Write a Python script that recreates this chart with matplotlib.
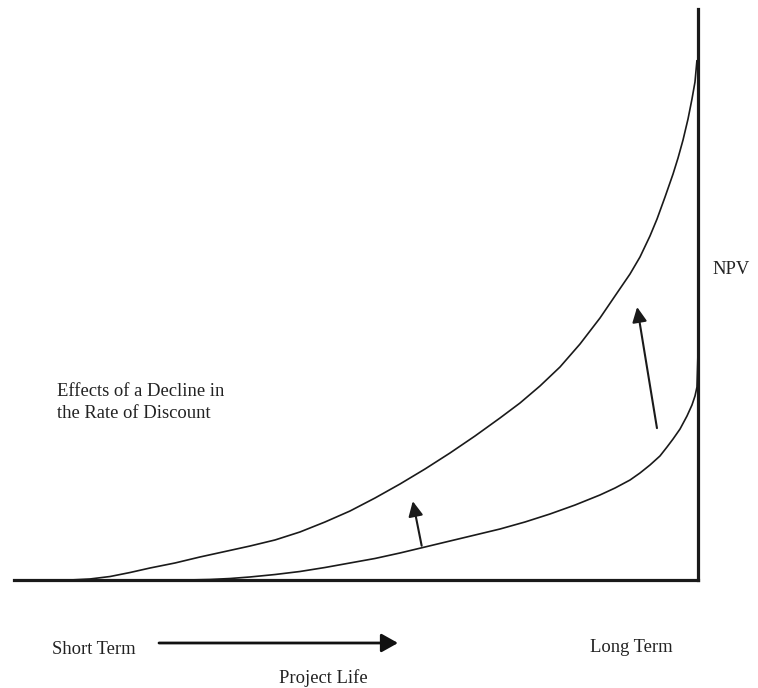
import matplotlib
matplotlib.use("Agg")
import matplotlib.pyplot as plt

# Project life (0-100) vs NPV (0-100)
x_before = [25.29, 28.65, 31.58, 34.50, 38.16, 41.81, 45.47, 49.12, 52.78, 56.43, 60.09,
            63.74, 67.40, 71.05, 74.71, 78.36, 82.02, 85.67, 87.87, 90.06, 91.52, 92.98,
            94.44, 95.47, 96.35, 97.37, 98.39, 99.12, 99.56, 99.85, 100.0]
npv_before = [0.0, 0.09, 0.26, 0.53, 0.96, 1.49, 2.19, 2.98, 3.77, 4.73, 5.78,
              6.83, 7.88, 8.93, 10.16, 11.56, 13.13, 14.89, 16.11, 17.51, 18.74, 20.14,
              21.72, 23.29, 24.69, 26.44, 28.72, 30.65, 32.22, 33.80, 39.93]

x_after = [8.19, 11.11, 14.04, 16.96, 19.88, 23.54, 27.19, 30.85, 34.50, 38.16, 41.81,
           45.47, 49.12, 52.78, 56.43, 60.09, 63.74, 67.40, 71.05, 73.98, 76.90, 79.82,
           82.75, 85.67, 88.16, 90.06, 91.52, 92.98, 94.01, 95.18, 96.35, 97.08, 97.81,
           98.54, 99.12, 99.56, 99.85]
npv_after = [0.0, 0.18, 0.61, 1.31, 2.10, 2.98, 4.03, 4.99, 5.95, 7.01, 8.41,
             10.16, 12.08, 14.36, 16.81, 19.44, 22.24, 25.22, 28.37, 31.00, 33.98, 37.30,
             41.33, 45.88, 50.26, 53.59, 56.57, 60.25, 63.22, 67.08, 71.10, 73.91, 77.06,
             80.74, 84.24, 87.22, 91.07]

# shift arrows: (x_tail, y_tail, x_tip, y_tip)
shift_arrows = [(59.6, 6.0, 58.3, 13.8), (94.0, 26.6, 91.1, 47.8)]

effects_lines = ["Effects of a Decline in", "the Rate of Discount"]

W, H = 758, 688
fig = plt.figure(figsize=(W / 100, H / 100), dpi=100)
fig.patch.set_facecolor("white")

def fx(px):
    return px / W

def fy(py):
    return 1 - py / H

ax = fig.add_axes([fx(14), fy(580), (698 - 14) / W, (580 - 9) / H])
ax.set_xlim(0, 100)
ax.set_ylim(0, 100)
ax.set_xticks([])
ax.set_yticks([])
for s in ["top", "left"]:
    ax.spines[s].set_visible(False)
for s in ["bottom", "right"]:
    ax.spines[s].set_linewidth(2.3)
    ax.spines[s].set_color("#1a1a1a")
ax.patch.set_alpha(0)

for xs, ys in [(x_before, npv_before), (x_after, npv_after)]:
    ax.plot(xs, ys, color="#1a1a1a", lw=1.2, clip_on=False,
            solid_capstyle="butt", solid_joinstyle="round")

for (x0, y0, x1, y1) in shift_arrows:
    ax.annotate("", xy=(x1, y1), xytext=(x0, y0),
                arrowprops=dict(arrowstyle="-|>,head_length=0.45,head_width=0.22",
                                mutation_scale=20, color="#1a1a1a", lw=1.5,
                                shrinkA=0, shrinkB=0))

font = dict(family="Liberation Serif", size=13.4, color="#222222")

fig.text(fx(57), fy(396), effects_lines[0], va="baseline", ha="left", **font)
fig.text(fx(57), fy(418), effects_lines[1], va="baseline", ha="left", **font)
fig.text(fx(712), fy(274), "NPV", va="baseline", ha="left", **font)
fig.text(fx(52), fy(654), "Short Term", va="baseline", ha="left", **font)
fig.text(fx(590), fy(652), "Long Term", va="baseline", ha="left", **font)
fig.text(fx(279), fy(683), "Project Life", va="baseline", ha="left", **font)

ax.annotate("", xy=(fx(398), fy(643)), xytext=(fx(159), fy(643)),
            xycoords="figure fraction", textcoords="figure fraction",
            arrowprops=dict(arrowstyle="-|>,head_length=0.5,head_width=0.28",
                            mutation_scale=20, color="#111111", lw=2.0,
                            shrinkA=0, shrinkB=0))

fig.savefig("out.png", dpi=100, facecolor="white")
